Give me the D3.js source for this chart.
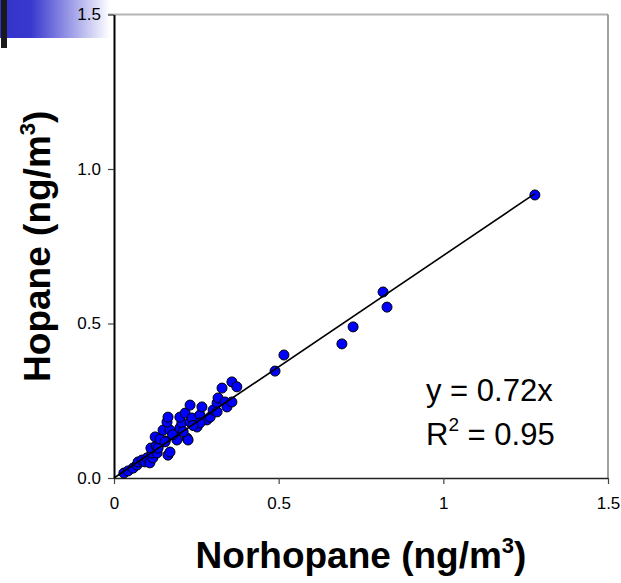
<!DOCTYPE html>
<html>
<head>
<meta charset="utf-8">
<script src="https://cdn.jsdelivr.net/npm/d3@7"></script>
<style>
    body { margin: 0; background: #fff; }
    svg { display: block; }
</style>
</head>
<body>
<div id="chart"></div>
<script>
// Data
const norhopane = [
    0.030, 0.043, 0.058, 0.070, 0.073, 0.085, 0.094, 0.100, 0.109, 0.118,
    0.115, 0.131, 0.112, 0.128, 0.140, 0.155, 0.164, 0.170, 0.134, 0.125,
    0.140, 0.155, 0.149, 0.170, 0.161, 0.164, 0.185, 0.191, 0.200, 0.222,
    0.225, 0.206, 0.200, 0.216, 0.231, 0.237, 0.252, 0.261, 0.267, 0.282,
    0.292, 0.301, 0.313, 0.316, 0.328, 0.337, 0.343, 0.358, 0.358, 0.373,
    0.313, 0.261, 0.231, 0.178, 0.210, 0.240,
    0.489, 0.516, 0.692, 0.726, 0.817, 0.829, 1.278
];
const hopane = [
    0.016, 0.023, 0.032, 0.042, 0.052, 0.058, 0.052, 0.065, 0.049, 0.065,
    0.081, 0.081, 0.097, 0.104, 0.113, 0.120, 0.074, 0.084, 0.097, 0.133,
    0.126, 0.117, 0.155, 0.155, 0.181, 0.197, 0.139, 0.123, 0.162, 0.129,
    0.123, 0.178, 0.197, 0.210, 0.181, 0.194, 0.165, 0.204, 0.230, 0.188,
    0.197, 0.220, 0.243, 0.259, 0.291, 0.246, 0.230, 0.246, 0.311, 0.295,
    0.214, 0.178, 0.236, 0.140, 0.150, 0.170,
    0.346, 0.398, 0.434, 0.489, 0.602, 0.553, 0.916
];
const xTicks = [0, 0.5, 1, 1.5];
const xTickLabels = ["0", "0.5", "1", "1.5"];
const yTicks = [0, 0.5, 1.0, 1.5];
const yTickLabels = ["0.0", "0.5", "1.0", "1.5"];
const slope = 0.72;
const fitEnd = 1.278;
const r2 = "0.95";

const width = 621;
const height = 583;
const plotLeft = 114, plotRight = 608, plotTop = 14.5, plotBottom = 478;

const xScale = d3.scaleLinear().domain([0, 1.5]).range([plotLeft, plotRight]);
const yScale = d3.scaleLinear().domain([0, 1.5]).range([plotBottom, plotTop]);

const svg = d3.select("#chart")
    .append("svg")
    .attr("width", width)
    .attr("height", height)
    .style("font-family", "'Liberation Sans', Arial, sans-serif");

// Slide decoration in the top left corner
const grad = svg.append("defs")
    .append("linearGradient")
    .attr("id", "fade")
    .attr("x1", "0%").attr("x2", "100%");
grad.append("stop").attr("offset", "0%").attr("stop-color", "#3434cc");
grad.append("stop").attr("offset", "28%").attr("stop-color", "#3838cf");
grad.append("stop").attr("offset", "100%").attr("stop-color", "#ffffff");
svg.append("rect")
    .attr("x", 0).attr("y", 0)
    .attr("width", 110).attr("height", 38)
    .attr("fill", "url(#fade)");
svg.append("rect")
    .attr("x", 1).attr("y", 0)
    .attr("width", 6).attr("height", 48)
    .attr("fill", "#1a1a1a");

// Frame: top and right borders
svg.append("line")
    .attr("x1", plotLeft - 6).attr("x2", plotRight)
    .attr("y1", plotTop).attr("y2", plotTop)
    .attr("stroke", "#b4b4b4").attr("stroke-width", 2);
svg.append("line")
    .attr("x1", plotRight).attr("x2", plotRight)
    .attr("y1", plotTop).attr("y2", plotBottom)
    .attr("stroke", "#808080").attr("stroke-width", 1.5);

// Axes
const xAxis = d3.axisBottom(xScale)
    .tickValues(xTicks)
    .tickFormat((d, i) => xTickLabels[i])
    .tickSizeInner(6).tickSizeOuter(0).tickPadding(13);
const yAxis = d3.axisLeft(yScale)
    .tickValues(yTicks)
    .tickFormat((d, i) => yTickLabels[i])
    .tickSizeInner(6).tickSizeOuter(0).tickPadding(7);

const xAxisGroup = svg.append("g")
    .attr("transform", `translate(0, ${plotBottom})`)
    .call(xAxis);
const yAxisGroup = svg.append("g")
    .attr("transform", `translate(${plotLeft}, 0)`)
    .call(yAxis);

xAxisGroup.select(".domain").attr("stroke", "#222").attr("stroke-width", 1.5);
yAxisGroup.select(".domain").attr("stroke", "#000").attr("stroke-width", 2);
svg.selectAll(".tick line").attr("stroke", "#444").attr("stroke-width", 1.2);
svg.selectAll(".tick text")
    .attr("fill", "#000")
    .style("font-size", "17px")
    .style("font-family", "'Liberation Sans', Arial, sans-serif");

// Points
svg.append("g")
    .selectAll("circle")
    .data(norhopane.map((x, i) => ({ x: x, y: hopane[i] })))
    .enter()
    .append("circle")
    .attr("cx", d => xScale(d.x))
    .attr("cy", d => yScale(d.y))
    .attr("r", 5)
    .attr("fill", "#0000ff")
    .attr("stroke", "#000")
    .attr("stroke-width", 1);

// Regression line through origin
svg.append("line")
    .attr("x1", xScale(0)).attr("y1", yScale(0))
    .attr("x2", xScale(fitEnd)).attr("y2", yScale(slope * fitEnd))
    .attr("stroke", "#000")
    .attr("stroke-width", 1.6);

// Equation text
svg.append("text")
    .attr("x", 426).attr("y", 401)
    .style("font-size", "31px")
    .text(`y = ${slope}x`);
const r2Text = svg.append("text")
    .attr("x", 426).attr("y", 445)
    .style("font-size", "31px");
r2Text.append("tspan").text("R");
r2Text.append("tspan").attr("dy", -14).style("font-size", "19px").text("2");
r2Text.append("tspan").attr("dy", 14).text(` = ${r2}`);

// Axis titles
const xTitle = svg.append("text")
    .attr("x", (plotLeft + plotRight) / 2).attr("y", 568)
    .attr("text-anchor", "middle")
    .style("font-size", "37px").style("font-weight", "bold");
xTitle.append("tspan").text("Norhopane (ng/m");
xTitle.append("tspan").attr("dy", -15).style("font-size", "22px").text("3");
xTitle.append("tspan").attr("dy", 15).text(")");

const yTitle = svg.append("text")
    .attr("transform", `translate(50, ${(plotTop + plotBottom) / 2}) rotate(-90)`)
    .attr("text-anchor", "middle")
    .style("font-size", "37px").style("font-weight", "bold");
yTitle.append("tspan").text("Hopane (ng/m");
yTitle.append("tspan").attr("dy", -15).style("font-size", "22px").text("3");
yTitle.append("tspan").attr("dy", 15).text(")");
</script>
</body>
</html>
